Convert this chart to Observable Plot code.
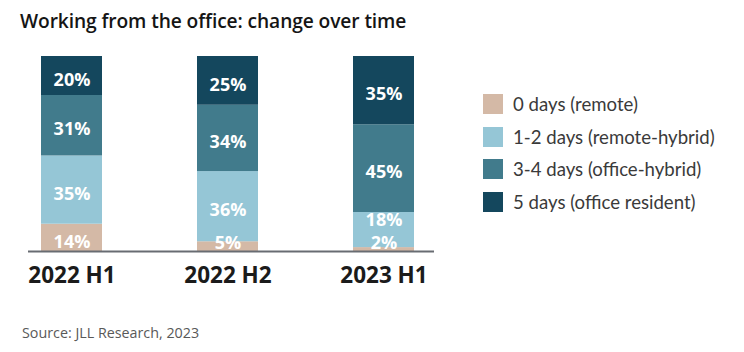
<!DOCTYPE html>
<html>
<head>
<meta charset="utf-8">
<script src="https://cdn.jsdelivr.net/npm/d3@7"></script>
<script src="https://cdn.jsdelivr.net/npm/@observablehq/plot@0.6"></script>
<style>
  html, body { margin: 0; padding: 0; background: #fff; }
  #wrap { position: relative; width: 744px; height: 352px; overflow: hidden; font-family: "Open Sans", sans-serif; }
  #title { position: absolute; left: 20px; top: 7px; font-size: 19.2px; font-weight: 600; color: #151515; white-space: nowrap; letter-spacing: -0.1px; }
  #chart { position: absolute; left: 0; top: 0; }
  #legend { position: absolute; left: 483px; top: 94px; }
  .row { display: flex; align-items: center; height: 20px; margin-bottom: 12.5px; }
  .sw { width: 20px; height: 20px; margin-right: 10px; }
  .lab { font-family: "Lato", sans-serif; font-size: 18.6px; color: #3a3a3a; white-space: nowrap; }
  #source { position: absolute; left: 22px; top: 323px; font-size: 14.3px; color: #595959; white-space: nowrap; }
</style>
</head>
<body>
<div id="wrap">
  <div id="chart"></div>
  <div id="title">Working from the office: change over time</div>
  <div id="legend"></div>
  <div id="source">Source: JLL Research, 2023</div>
</div>
<script>
const periods = ["2022 H1", "2022 H2", "2023 H1"];
const categories = ["0 days (remote)", "1-2 days (remote-hybrid)", "3-4 days (office-hybrid)", "5 days (office resident)"];
const colors = ["#d4b9a6", "#95c6d6", "#417b8c", "#14475d"];
// values per category, in period order
const remote0 = [14, 5, 2];
const remoteHybrid = [35, 36, 18];
const officeHybrid = [31, 34, 45];
const officeResident = [20, 25, 35];

const series = [remote0, remoteHybrid, officeHybrid, officeResident];
const rows = [];
periods.forEach((p, i) => {
  series.forEach((s, j) => rows.push({period: p, cat: categories[j], idx: j, value: s[i]}));
});

// label positions: segment mid, pushed up to avoid the axis and overlaps
const labels = [];
periods.forEach((p, i) => {
  let cum = 0, prev = -Infinity;
  series.forEach((s, j) => {
    const v = s[i];
    const mid = cum + v / 2;
    let ly = Math.max(mid - 2, 4, prev + 11.8);
    labels.push({period: p, ly, text: v + "%"});
    prev = ly;
    cum += v;
  });
});

const chart = Plot.plot({
  width: 744,
  height: 352,
  marginTop: 56,
  marginBottom: 101,
  marginLeft: 28,
  marginRight: 310,
  style: {fontFamily: "Open Sans, sans-serif", background: "transparent"},
  x: {domain: periods, paddingInner: 0.61, paddingOuter: 0.106, align: 0.4, label: null},
  y: {domain: [0, 100], axis: null},
  color: {domain: categories, range: colors},
  marks: [
    Plot.barY(rows, {x: "period", y: "value", fill: "cat", order: "idx"}),
    Plot.ruleY([0], {stroke: "#686c72", strokeWidth: 2}),
    Plot.text(labels, {x: "period", y: "ly", text: "text", fill: "white", fontWeight: "bold", fontSize: 18}),
    Plot.axisX({tickSize: 0, tickPadding: 16, fontSize: 22.5, fontWeight: "bold", color: "#1b1b1b", label: null})
  ]
});
chart.querySelectorAll('[aria-label="x-axis tick label"] text').forEach(t => t.setAttribute("fill", "#1b1b1b"));
document.getElementById("chart").appendChild(chart);

const legend = document.getElementById("legend");
categories.forEach((c, i) => {
  const row = document.createElement("div");
  row.className = "row";
  const sw = document.createElement("div");
  sw.className = "sw";
  sw.style.background = colors[i];
  const lab = document.createElement("div");
  lab.className = "lab";
  lab.textContent = c;
  row.appendChild(sw); row.appendChild(lab);
  legend.appendChild(row);
});
</script>
</body>
</html>
